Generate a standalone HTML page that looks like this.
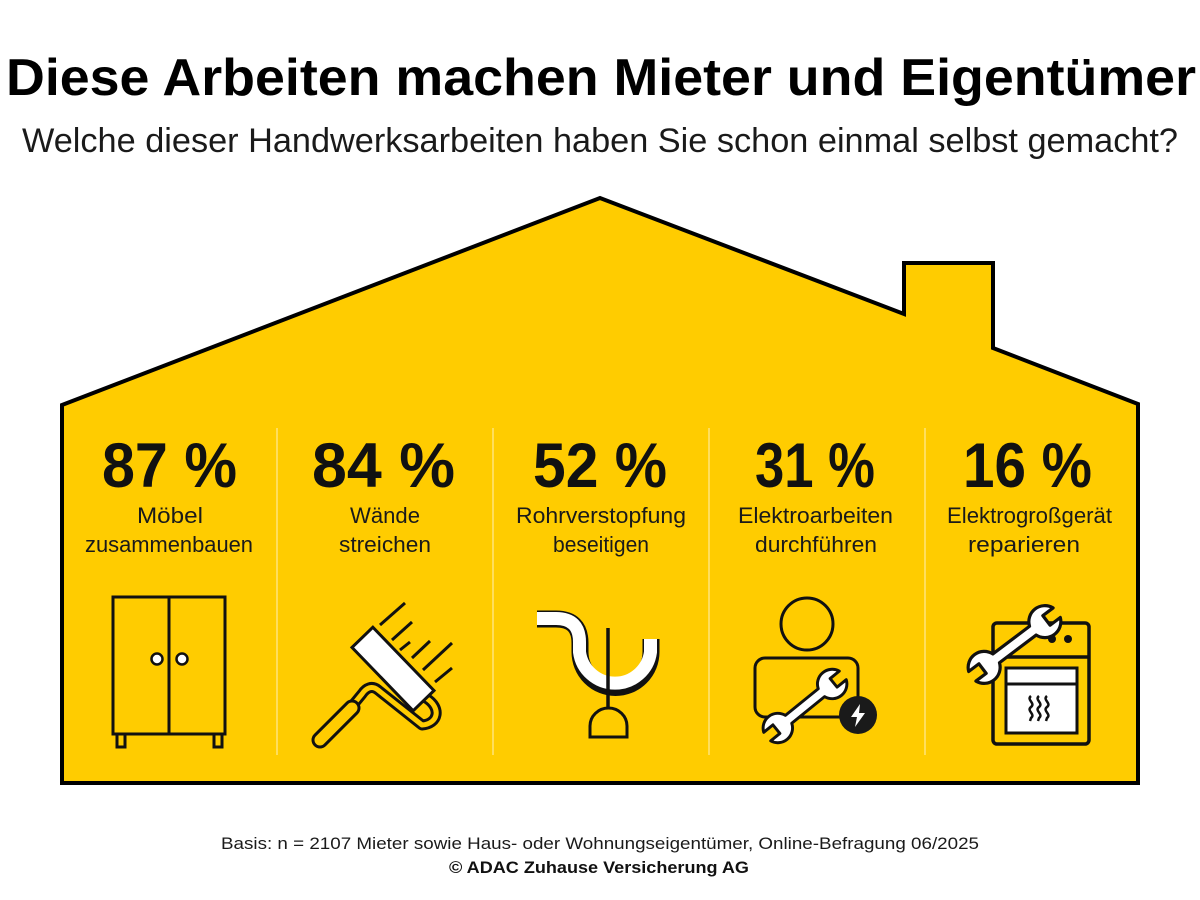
<!DOCTYPE html>
<html>
<head>
<meta charset="utf-8">
<style>
  html,body{margin:0;padding:0;background:#fff;}
  svg{display:block;}
  .t{font-family:"Liberation Sans",sans-serif;}
</style>
</head>
<body>
<svg width="1200" height="900" viewBox="0 0 1200 900" xmlns="http://www.w3.org/2000/svg">
  <defs>
    <path id="wrench" d="M-22.98,-5.5 L22.98,-5.5 A16,16 0 0 1 52.83,-6 L40,-6 L40,6 L52.83,6 A16,16 0 0 1 22.98,5.5 L-22.98,5.5 A16,16 0 0 1 -52.83,6 L-40,6 L-40,-6 L-52.83,-6 A16,16 0 0 1 -22.98,-5.5 Z"/>
  </defs>

  <!-- Title -->
  <text class="t" x="6" y="95" font-size="52" font-weight="bold" fill="#000" textLength="1190" lengthAdjust="spacingAndGlyphs">Diese Arbeiten machen Mieter und Eigentümer</text>
  <text class="t" x="22" y="152" font-size="34" fill="#1a1a1a" textLength="1156" lengthAdjust="spacingAndGlyphs">Welche dieser Handwerksarbeiten haben Sie schon einmal selbst gemacht?</text>

  <!-- House -->
  <polygon points="62,405 600,198 904,314 904,263 993,263 993,348 1138,404 1138,783 62,783" fill="#FFCC00" stroke="#000" stroke-width="4" stroke-linejoin="miter"/>

  <!-- Dividers -->
  <g stroke="#FFE37A" stroke-width="1.5">
    <line x1="277" y1="428" x2="277" y2="755"/>
    <line x1="493" y1="428" x2="493" y2="755"/>
    <line x1="709" y1="428" x2="709" y2="755"/>
    <line x1="925" y1="428" x2="925" y2="755"/>
  </g>

  <!-- Numbers -->
  <g class="t" font-size="63" font-weight="bold" fill="#111" text-anchor="middle">
    <text x="169.5" y="487" textLength="135" lengthAdjust="spacingAndGlyphs">87 %</text>
    <text x="383.5" y="487" textLength="143" lengthAdjust="spacingAndGlyphs">84 %</text>
    <text x="600" y="487" textLength="134" lengthAdjust="spacingAndGlyphs">52 %</text>
    <text x="815" y="487" textLength="120" lengthAdjust="spacingAndGlyphs">31 %</text>
    <text x="1027.5" y="487" textLength="129" lengthAdjust="spacingAndGlyphs">16 %</text>
  </g>

  <!-- Labels -->
  <g class="t" font-size="22" fill="#1a1a1a" text-anchor="middle">
    <text x="170" y="523" textLength="66" lengthAdjust="spacingAndGlyphs">Möbel</text>
    <text x="169" y="552" textLength="168" lengthAdjust="spacingAndGlyphs">zusammenbauen</text>
    <text x="385" y="523" textLength="70" lengthAdjust="spacingAndGlyphs">Wände</text>
    <text x="385" y="552" textLength="92" lengthAdjust="spacingAndGlyphs">streichen</text>
    <text x="601" y="523" textLength="170" lengthAdjust="spacingAndGlyphs">Rohrverstopfung</text>
    <text x="601" y="552" textLength="96" lengthAdjust="spacingAndGlyphs">beseitigen</text>
    <text x="815.5" y="523" textLength="155" lengthAdjust="spacingAndGlyphs">Elektroarbeiten</text>
    <text x="816" y="552" textLength="122" lengthAdjust="spacingAndGlyphs">durchführen</text>
    <text x="1029.5" y="523" textLength="165" lengthAdjust="spacingAndGlyphs">Elektrogroßgerät</text>
    <text x="1024" y="552" textLength="112" lengthAdjust="spacingAndGlyphs">reparieren</text>
  </g>

  <!-- Icon 1: cabinet -->
  <g stroke="#111" stroke-width="3" fill="none">
    <rect x="113" y="597" width="112" height="137"/>
    <line x1="169" y1="597" x2="169" y2="734"/>
    <rect x="117" y="734" width="8" height="13"/>
    <rect x="214" y="734" width="8" height="13"/>
    <circle cx="157" cy="659" r="5.5" fill="#fff" stroke-width="2.5"/>
    <circle cx="182" cy="659" r="5.5" fill="#fff" stroke-width="2.5"/>
  </g>

  <!-- Icon 2: paint roller -->
  <g stroke="#111" fill="none">
    <g stroke-width="3">
      <line x1="380" y1="625" x2="405" y2="603"/>
      <line x1="392" y1="640" x2="412" y2="622"/>
      <line x1="400" y1="650" x2="410" y2="642"/>
      <line x1="412" y1="658" x2="430" y2="641"/>
      <line x1="423" y1="670" x2="452" y2="643"/>
      <line x1="435" y1="682" x2="452" y2="668"/>
    </g>
    <path d="M426,698 C442,708 438,724 422,725 L378,690 C372,685 366,688 362,694 L348,711" stroke-width="11" stroke-linecap="round" stroke-linejoin="round"/>
    <path d="M426,698 C442,708 438,724 422,725 L378,690 C372,685 366,688 362,694 L348,711" stroke="#FFCC00" stroke-width="5" stroke-linecap="round" stroke-linejoin="round"/>
    <line x1="352" y1="708" x2="320" y2="740" stroke-width="17" stroke-linecap="round"/>
    <line x1="352" y1="708" x2="320" y2="740" stroke="#FFCC00" stroke-width="11" stroke-linecap="round"/>
    <rect x="-44" y="-14.5" width="88" height="29" fill="#fff" stroke-width="3" transform="translate(393,669) rotate(46)"/>
  </g>

  <!-- Icon 3: pipe + plunger -->
  <g fill="none">
    <path d="M537,619 H556 Q580,619 580,643 V652 A35.5,35.5 0 0 0 651,652 V639" stroke="#111" stroke-width="17"/>
    <path d="M537,618.5 H556 Q579.5,618.5 579.5,642 V652 A35.8,35.8 0 0 0 650.5,652 V639" stroke="#fff" stroke-width="13"/>
    <line x1="608" y1="628" x2="608" y2="710" stroke="#111" stroke-width="3.5"/>
    <path d="M590,737 V726 A18.5,18 0 0 1 627,726 V737 Z" fill="#FFCC00" stroke="#111" stroke-width="3"/>
  </g>

  <!-- Icon 4: person with wrench -->
  <g stroke="#111" stroke-width="3" fill="none">
    <circle cx="807" cy="624" r="26"/>
    <rect x="755" y="658" width="103" height="59" rx="10"/>
  </g>
  <use href="#wrench" transform="translate(805,706) rotate(-39) scale(0.92)" fill="#fff" stroke="#111" stroke-width="3.2" stroke-linejoin="round"/>
  <circle cx="858" cy="715" r="19" fill="#1a1a1a"/>
  <polygon points="860,704 851,717 857,717 855,727 865,713 859,713" fill="#fff"/>

  <!-- Icon 5: oven with wrench -->
  <g stroke="#111" stroke-width="3.5" fill="none">
    <rect x="993" y="623" width="96" height="121" rx="4"/>
    <line x1="993" y1="657" x2="1089" y2="657"/>
    <rect x="1006" y="668" width="71" height="65" fill="#fff" stroke-width="3"/>
    <line x1="1006" y1="684" x2="1077" y2="684" stroke-width="3"/>
    <g stroke-width="2.5">
      <path d="M1031,696 c-5,4 5,7 0,11 c-5,4 5,7 0,11 l-1,3"/>
      <path d="M1039,696 c-5,4 5,7 0,11 c-5,4 5,7 0,11 l-1,3"/>
      <path d="M1047,696 c-5,4 5,7 0,11 c-5,4 5,7 0,11 l-1,3"/>
    </g>
  </g>
  <circle cx="1052" cy="639" r="4" fill="#111"/>
  <circle cx="1068" cy="639" r="4" fill="#111"/>
  <use href="#wrench" transform="translate(1014.5,644.5) rotate(-37)" fill="#fff" stroke="#111" stroke-width="3.2" stroke-linejoin="round"/>

  <!-- Footer -->
  <text class="t" x="221" y="849" font-size="17" fill="#1a1a1a" textLength="758" lengthAdjust="spacingAndGlyphs">Basis: n = 2107 Mieter sowie Haus- oder Wohnungseigentümer, Online-Befragung 06/2025</text>
  <text class="t" x="449" y="873" font-size="17" font-weight="bold" fill="#111" textLength="300" lengthAdjust="spacingAndGlyphs">© ADAC Zuhause Versicherung AG</text>
</svg>
</body>
</html>
